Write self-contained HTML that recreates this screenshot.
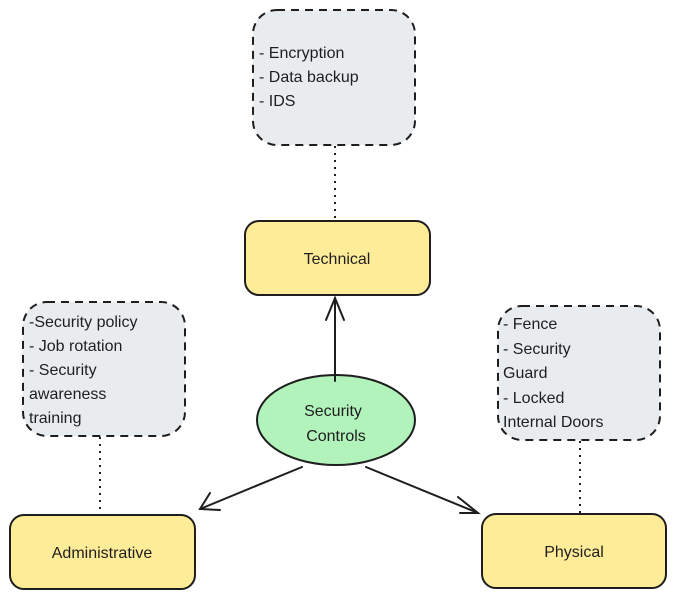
<!DOCTYPE html>
<html><head><meta charset="utf-8"><style>
body{margin:0;background:#fff}
svg text{font-family:"Liberation Sans",sans-serif;font-size:16px;fill:#1e1e1e}
</style></head><body>
<svg width="676" height="599" viewBox="0 0 676 599" xmlns="http://www.w3.org/2000/svg">
<g fill="none" stroke="#1e1e1e" stroke-width="2" stroke-dasharray="2 5">
<line x1="335" y1="146" x2="335" y2="221"/>
<line x1="100" y1="437" x2="100" y2="515"/>
<line x1="580" y1="441" x2="580" y2="514"/>
</g>
<g fill="#e9ecef" stroke="#1e1e1e" stroke-width="2" stroke-dasharray="8 6">
<rect x="253" y="10" width="162" height="135" rx="24"/>
<rect x="23" y="302" width="162" height="134" rx="24"/>
<rect x="498" y="306" width="162" height="134" rx="24"/>
</g>
<g fill="#ffec99" stroke="#1e1e1e" stroke-width="2">
<rect x="245" y="221" width="185" height="74" rx="14"/>
<rect x="10" y="515" width="185" height="74" rx="14"/>
<rect x="482" y="514" width="184" height="74" rx="14"/>
</g>
<ellipse cx="336" cy="420" rx="79" ry="45" fill="#b2f2bb" stroke="#1e1e1e" stroke-width="2"/>
<g fill="none" stroke="#1e1e1e" stroke-width="2" stroke-linecap="round">
<line x1="335" y1="381" x2="335" y2="298"/><polyline points="326,320 335,298 344,320"/>
<line x1="302" y1="467" x2="200" y2="509"/><polyline points="210,493 200,509 220,510"/>
<line x1="366" y1="467" x2="478" y2="513"/><polyline points="458,497 478,513 460,513"/>
</g>
<text x="259" y="58">- Encryption</text>
<text x="259" y="82">- Data backup</text>
<text x="259" y="106">- IDS</text>
<text x="29" y="327">-Security policy</text>
<text x="29" y="351">- Job rotation</text>
<text x="29" y="375">- Security</text>
<text x="29" y="399">awareness</text>
<text x="29" y="423">training</text>
<text x="503" y="329">- Fence</text>
<text x="503" y="354">- Security</text>
<text x="503" y="378">Guard</text>
<text x="503" y="403">- Locked</text>
<text x="503" y="427">Internal Doors</text>
<text x="337" y="264" text-anchor="middle">Technical</text>
<text x="102" y="558" text-anchor="middle">Administrative</text>
<text x="574" y="557" text-anchor="middle">Physical</text>
<text x="333" y="416" text-anchor="middle">Security</text>
<text x="336" y="441" text-anchor="middle">Controls</text>
</svg>
</body></html>
